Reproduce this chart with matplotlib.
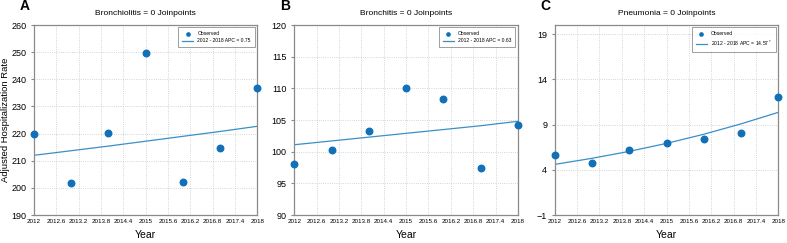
import numpy as np
import matplotlib.pyplot as plt

years = [2012, 2013, 2014, 2015, 2016, 2017, 2018]

# observed rates
bronchiolitis = [220.0, 201.8, 220.2, 249.6, 202.3, 214.6, 236.9]
bronchitis = [98.1, 100.2, 103.2, 110.0, 108.4, 97.4, 104.2]
pneumonia = [5.6, 4.7, 6.2, 7.0, 7.4, 8.1, 12.1]

# fitted joinpoint lines
bronchiolitis_fit = [212.0, 213.7, 215.4, 217.2, 219.0, 220.8, 222.7]
bronchitis_fit = [101.1, 101.7, 102.3, 102.9, 103.5, 104.1, 104.8]
pneumonia_fit = [4.6, 5.27, 6.04, 6.92, 7.93, 9.08, 10.35]

titles = ["Bronchiolitis = 0 Joinpoints", "Bronchitis = 0 Joinpoints", "Pneumonia = 0 Joinpoints"]
fit_labels = ["2012 - 2018 APC = 0.75", "2012 - 2018 APC = 0.63", "2012 - 2018 APC = 14.57$^*$"]
panel_letters = ["A", "B", "C"]
y_ticks = [[190, 200, 210, 220, 230, 240, 250, 260],
           [90, 95, 100, 105, 110, 115, 120],
           [-1, 4, 9, 14, 19]]
y_limits = [(190, 260), (90, 120), (-1, 20)]
x_ticks = [2012, 2012.6, 2013.2, 2013.8, 2014.4, 2015, 2015.6, 2016.2, 2016.8, 2017.4, 2018]
x_ticklabels = ["2012", "2012.6", "2013.2", "2013.8", "2014.4", "2015", "2015.6",
                "2016.2", "2016.8", "2017.4", "2018"]

plt.rcParams['font.family'] = ['Liberation Sans', 'DejaVu Sans']

fig, axes = plt.subplots(1, 3, figsize=(7.87, 2.43), dpi=100)
fig.subplots_adjust(left=0.043, right=0.989, top=0.897, bottom=0.115, wspace=0.165)

observed = [bronchiolitis, bronchitis, pneumonia]
fits = [bronchiolitis_fit, bronchitis_fit, pneumonia_fit]

for i, ax in enumerate(axes):
    yrs_fine = np.linspace(2012, 2018, 61)
    fit_fine = np.interp(yrs_fine, years, fits[i])
    ax.plot(yrs_fine, fit_fine, color='#3a8fc6', lw=0.9, label=fit_labels[i])
    ax.scatter(years, observed[i], s=22, color='#1170b8', zorder=3, label='Observed', clip_on=False)

    ax.set_xlim(2012, 2018)
    ax.set_ylim(*y_limits[i])
    ax.set_xticks(x_ticks)
    ax.set_xticklabels(x_ticklabels, fontsize=4.5)
    ax.set_yticks(y_ticks[i])
    ax.tick_params(axis='y', labelsize=6.5, length=2, color='#888888')
    ax.tick_params(axis='x', length=0, pad=3)
    ax.grid(True, ls=':', lw=0.6, color='#c0c8d0')
    for s in ax.spines.values():
        s.set_color('#8a8a8a')
        s.set_linewidth(0.9)
    ax.set_xlabel("Year", fontsize=7.5, labelpad=4)
    ax.set_title(titles[i], fontsize=6, pad=7)
    ax.text(-0.065, 1.065, panel_letters[i], transform=ax.transAxes, fontsize=10,
            fontweight='bold', ha='left', va='bottom')

    handles, labels = ax.get_legend_handles_labels()
    leg = ax.legend(handles[::-1], labels[::-1], loc='upper right', fontsize=3.6,
                    frameon=True, fancybox=False, borderpad=0.8, handlelength=2.2,
                    markerscale=0.5, bbox_to_anchor=(0.988, 0.99), borderaxespad=0)
    leg.get_frame().set_edgecolor('#555555')
    leg.get_frame().set_linewidth(0.5)

axes[0].set_ylabel("Adjusted Hospitalization Rate", fontsize=6.8)
axes[0].yaxis.set_label_coords(-0.105, 0.5)

plt.savefig("out.png", dpi=100)
